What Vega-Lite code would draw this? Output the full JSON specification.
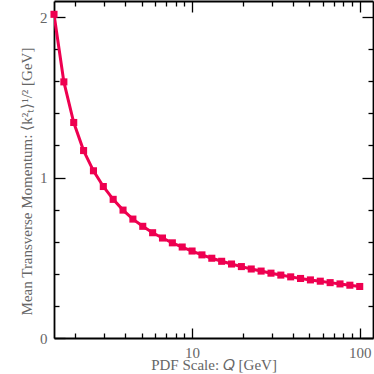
{
  "$schema": "https://vega.github.io/schema/vega-lite/v6.json",
  "width": 319,
  "height": 337,
  "autosize": "none",
  "padding": {"left": 54, "right": 1, "top": 1, "bottom": 36},
  "background": "white",
  "config": {
    "view": {"stroke": null},
    "axis": {
      "domainColor": "black",
      "domainWidth": 1.8,
      "tickColor": "black",
      "tickWidth": 1.3,
      "grid": false,
      "labelFont": "Liberation Serif",
      "labelFontSize": 15,
      "labelColor": "#666666",
      "titleFont": "Liberation Serif",
      "titleFontSize": 15,
      "titleFontWeight": "normal",
      "titleColor": "#666666"
    }
  },
  "data": {
    "values": [
      {"Q": 1.5, "kt": 2.017},
      {"Q": 1.7176, "kt": 1.596},
      {"Q": 1.9668, "kt": 1.343},
      {"Q": 2.2522, "kt": 1.168},
      {"Q": 2.5789, "kt": 1.042},
      {"Q": 2.9531, "kt": 0.944},
      {"Q": 3.3815, "kt": 0.864},
      {"Q": 3.8721, "kt": 0.797},
      {"Q": 4.4339, "kt": 0.741},
      {"Q": 5.0772, "kt": 0.696},
      {"Q": 5.8138, "kt": 0.656},
      {"Q": 6.6573, "kt": 0.623},
      {"Q": 7.6232, "kt": 0.593},
      {"Q": 8.7292, "kt": 0.567},
      {"Q": 9.9956, "kt": 0.542},
      {"Q": 11.446, "kt": 0.518},
      {"Q": 13.106, "kt": 0.497},
      {"Q": 15.008, "kt": 0.478},
      {"Q": 17.185, "kt": 0.461},
      {"Q": 19.678, "kt": 0.445},
      {"Q": 22.533, "kt": 0.430},
      {"Q": 25.802, "kt": 0.417},
      {"Q": 29.546, "kt": 0.404},
      {"Q": 33.833, "kt": 0.392},
      {"Q": 38.741, "kt": 0.381},
      {"Q": 44.362, "kt": 0.371},
      {"Q": 50.798, "kt": 0.362},
      {"Q": 58.168, "kt": 0.354},
      {"Q": 66.607, "kt": 0.345},
      {"Q": 76.271, "kt": 0.337},
      {"Q": 87.337, "kt": 0.329},
      {"Q": 100.0, "kt": 0.321}
    ]
  },
  "resolve": {"axis": {"x": "independent", "y": "independent"}},
  "layer": [
    {
      "mark": {"type": "line", "color": "#EE0050", "strokeWidth": 3, "clip": true},
      "encoding": {
        "x": {
          "field": "Q", "type": "quantitative",
          "scale": {"type": "log", "domain": [1.5, 120], "nice": false},
          "axis": {
            "orient": "bottom",
            "title": "PDF Scale: 𝑄 [GeV]",
            "titleBaseline": "alphabetic",
            "titleY": 31,
            "values": [2,3,4,5,6,7,8,9,10,20,30,40,50,60,70,80,90,100],
            "labelExpr": "datum.value == 10 || datum.value == 100 ? format(datum.value, 'd') : ''",
            "tickSize": {"condition": {"test": "datum.value == 10 || datum.value == 100", "value": -10}, "value": -5},
            "labelPadding": 17,
            "labelOverlap": false,
            "labelFlush": false
          }
        },
        "y": {
          "field": "kt", "type": "quantitative",
          "scale": {"domain": [0, 2.1], "nice": false, "zero": true},
          "axis": {
            "orient": "left",
            "title": "Mean Transverse Momentum: ⟨k²ₜ⟩¹/² [GeV]",
            "titlePadding": 5,
            "titleY": 180,
            "values": [0,0.2,0.4,0.6,0.8,1,1.2,1.4,1.6,1.8,2],
            "labelExpr": "datum.value == 0 || datum.value == 1 || datum.value == 2 ? format(datum.value, 'd') : ''",
            "tickSize": {"condition": {"test": "datum.value == 0 || datum.value == 1 || datum.value == 2", "value": -11}, "value": -5},
            "labelPadding": 18,
            "labelOverlap": false,
            "labelFlush": false
          }
        }
      }
    },
    {
      "mark": {"type": "square", "color": "#EE0050", "size": 50, "opacity": 1, "filled": true},
      "encoding": {
        "x": {
          "field": "Q", "type": "quantitative",
          "axis": {
            "orient": "top",
            "title": null,
            "values": [2,3,4,5,6,7,8,9,10,20,30,40,50,60,70,80,90,100],
            "labels": false,
            "tickSize": {"condition": {"test": "datum.value == 10 || datum.value == 100", "value": -11}, "value": -5}
          }
        },
        "y": {
          "field": "kt", "type": "quantitative",
          "axis": {
            "orient": "right",
            "title": null,
            "values": [0,0.2,0.4,0.6,0.8,1,1.2,1.4,1.6,1.8,2],
            "labels": false,
            "tickSize": {"condition": {"test": "datum.value == 0 || datum.value == 1 || datum.value == 2", "value": -11}, "value": -5}
          }
        }
      }
    }
  ]
}
